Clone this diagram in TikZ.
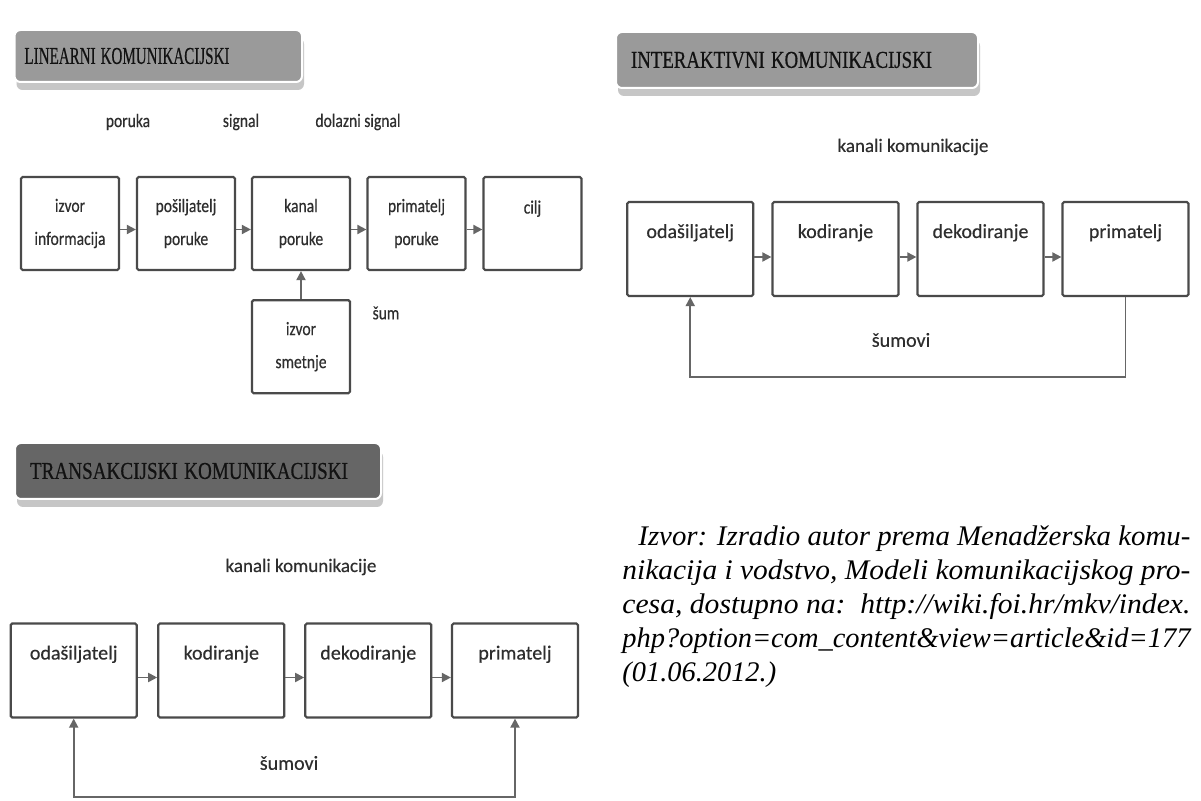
\documentclass[tikz,border=0pt]{standalone}
\usepackage{fontspec}
\setmainfont[FakeBold=0.4]{Carlito}
\newfontfamily\condfont[FakeStretch=0.82,FakeBold=0.4]{Carlito}
\newfontfamily\headfont[FakeBold=0.6]{Liberation Serif}
\newfontfamily\capfont{Liberation Serif}
\usepackage{graphicx}
\usetikzlibrary{arrows.meta,calc,shadows}

\definecolor{boxline}{HTML}{4A4A4A}
\definecolor{arrowc}{HTML}{666666}
\definecolor{txt}{HTML}{2E2E2E}
\definecolor{hdrtxt}{HTML}{121212}
\definecolor{hdrlight}{HTML}{9A9A9A}
\definecolor{hdrdark}{HTML}{666666}
\definecolor{shadowc}{HTML}{C6C6C6}

\tikzset{
  bx/.style={draw=boxline, line width=1.1pt, rounded corners=0.8pt, fill=white,
             text=txt, align=center, inner sep=0pt},
  lbox/.style={bx, minimum width=49pt, minimum height=46.5pt,
               font=\condfont\fontsize{9.5}{16.5}\selectfont},
  ibox/.style={bx, minimum width=63pt, minimum height=47pt,
               font=\fontsize{10}{12}\selectfont, text height=7pt, text depth=18pt},
  arr/.style={draw=arrowc, line width=0.9pt, -{Triangle[length=4.5pt,width=4.5pt]}},
  arrboth/.style={draw=arrowc, line width=0.9pt,
                  {Triangle[length=4.5pt,width=4.5pt]}-{Triangle[length=4.5pt,width=4.5pt]}},
  lbl/.style={text=txt, inner sep=0pt, font=\fontsize{9.5}{11}\selectfont},
  clbl/.style={text=txt, inner sep=0pt, font=\condfont\fontsize{9.5}{11}\selectfont},
  hdr/.style={draw=white, line width=1pt, rounded corners=3pt, text=hdrtxt,
              align=left, inner sep=0pt, font=\headfont,
              drop shadow={shadow xshift=1pt, shadow yshift=-4pt, fill=shadowc, opacity=1}},
  captxt/.style={anchor=base west, inner sep=0pt, text=black,
                 font=\capfont\itshape\fontsize{14.2}{17}\selectfont},
}

\begin{document}
\begin{tikzpicture}[x=0.5pt,y=-0.5pt]
\fill[white] (0,0) rectangle (1201,801);
\useasboundingbox (0,0) rectangle (1201,801);

% ---------------- Panel 1: linearni
\node[hdr, fill=hdrlight, minimum width=143.75pt, minimum height=26pt, text width=133.75pt]
  (h1) at (158.25,56) {\resizebox{102.5pt}{8pt}{LINEARNI KOMUNIKACIJSKI}};

\node[clbl] (lporuka) at (128,122) {poruka};
\node[clbl] (lsignal) at (241,122) {signal};
\node[clbl] (ldolazni) at (358,122) {dolazni signal};

\node[lbox] (b1) at (70,223.5) {izvor\\informacija};
\node[lbox] (b2) at (186,223.5) {pošiljatelj\\poruke};
\node[lbox] (b3) at (301,223.5) {kanal\\poruke};
\node[lbox] (b4) at (416.5,223.5) {primatelj\\poruke};
\node[lbox] (b5) at (532.5,223.5) {cilj\\\mbox{}};
\node[lbox] (b6) at (301,346.7) {izvor\\smetnje};
\node[clbl] (lsum) at (386,313) {šum};

\draw[arr] ([yshift=-3pt]b1.east) -- ([yshift=-3pt]b2.west);
\draw[arr] ([yshift=-3pt]b2.east) -- ([yshift=-3pt]b3.west);
\draw[arr] ([yshift=-3pt]b3.east) -- ([yshift=-3pt]b4.west);
\draw[arr] ([yshift=-3pt]b4.east) -- ([yshift=-3pt]b5.west);
\draw[arr] (b6.north) -- (b3.south);

% ---------------- Panel 2: interaktivni
\node[hdr, fill=hdrlight, minimum width=181pt, minimum height=28pt, text width=166pt]
  (h2) at (797,60) {\resizebox{150.5pt}{8pt}{INTERAKTIVNI KOMUNIKACIJSKI}};

\node[lbl] (k2) at (913,147) {kanali komunikacije};

\node[ibox] (i1) at (690.25,249) {odašiljatelj};
\node[ibox] (i2) at (835.5,249) {kodiranje};
\node[ibox] (i3) at (980.5,249) {dekodiranje};
\node[ibox] (i4) at (1125.5,249) {primatelj};

\draw[arr] ([yshift=-4pt]i1.east) -- ([yshift=-4pt]i2.west);
\draw[arr] ([yshift=-4pt]i2.east) -- ([yshift=-4pt]i3.west);
\draw[arr] ([yshift=-4pt]i3.east) -- ([yshift=-4pt]i4.west);

\node[lbl, font=\fontsize{10}{12}\selectfont] (s2) at (901,340) {šumovi};
\coordinate (fb2) at (0,377);
\draw[arr] (i4.south) -- (i4.south |- fb2) -| (i1.south);

% ---------------- Panel 3: transakcijski
\node[hdr, fill=hdrdark, minimum width=183pt, minimum height=28pt, text width=168pt]
  (h3) at (198,471) {\resizebox{159pt}{8pt}{TRANSAKCIJSKI KOMUNIKACIJSKI}};

\node[lbl] (k3) at (301,567) {kanali komunikacije};

\node[ibox] (t1) at (73.7,670.5) {odašiljatelj};
\node[ibox] (t2) at (221.3,670.5) {kodiranje};
\node[ibox] (t3) at (368.3,670.5) {dekodiranje};
\node[ibox] (t4) at (515,670.5) {primatelj};

\draw[arr] ([yshift=-3.5pt]t1.east) -- ([yshift=-3.5pt]t2.west);
\draw[arr] ([yshift=-3.5pt]t2.east) -- ([yshift=-3.5pt]t3.west);
\draw[arr] ([yshift=-3.5pt]t3.east) -- ([yshift=-3.5pt]t4.west);

\node[lbl, font=\fontsize{10}{12}\selectfont] (s3) at (289,763) {šumovi};
\coordinate (fb3) at (0,797);
\draw[arrboth] (t1.south) -- (t1.south |- fb3) -- (t4.south |- fb3) -- (t4.south);

% ---------------- Caption
\node[captxt] (c1) at (638,546) {\resizebox{276pt}{\height}{Izvor: Izradio autor prema Menadžerska komu-}};
\node[captxt] (c2) at (622,580) {\resizebox{284pt}{\height}{nikacija i vodstvo, Modeli komunikacijskog pro-}};
\node[captxt] (c3) at (622,614) {\resizebox{284pt}{\height}{cesa, dostupno na:\ \ http://wiki.foi.hr/mkv/index.}};
\node[captxt] (c4) at (622,648) {\resizebox{284pt}{\height}{php?option=com\_content\&view=article\&id=177}};
\node[captxt] (c5) at (622,682) {(01.06.2012.)};
\end{tikzpicture}
\end{document}
